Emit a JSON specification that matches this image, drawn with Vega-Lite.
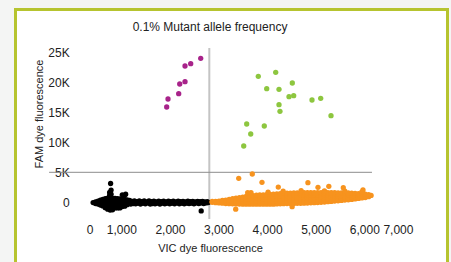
{
  "$schema": "https://vega.github.io/schema/vega-lite/v6.json",
  "width": 432,
  "height": 260.5,
  "autosize": {"type": "none"},
  "padding": {"left": 15.5, "top": 9.5, "right": 3.5, "bottom": 0},
  "background": "#f4f5f4",
  "config": {
    "view": {"fill": "white", "stroke": "#b6c42f", "strokeWidth": 3},
    "font": "Liberation Sans"
  },
  "title": {
    "text": "0.1% Mutant allele frequency",
    "fontSize": 12,
    "fontWeight": "normal",
    "color": "#222222",
    "anchor": "middle",
    "frame": "group",
    "dx": -21.5,
    "offset": -24
  },
  "encoding": {
    "x": {
      "field": "VIC",
      "type": "quantitative",
      "scale": {"domain": [-1177, 7712], "nice": false, "zero": false},
      "axis": {
        "title": "VIC dye fluorescence",
        "values": [0, 1000, 2000, 3000, 4000, 5000, 6000, 7000],
        "format": ",.0f",
        "offset": -50,
        "ticks": false,
        "domain": false,
        "grid": false,
        "labelPadding": 4,
        "labelFontSize": 12,
        "labelColor": "#222222",
        "labelOffset": {"condition": [{"test": "datum.value == 0", "value": 17}, {"test": "datum.value == 7000", "value": -15}], "value": 0},
        "titleFontSize": 11,
        "titleFontWeight": "normal",
        "titleColor": "#222222",
        "titleX": 194.5,
        "titleY": 28,
        "titleBaseline": "middle",
        "titleAlign": "center"
      }
    },
    "y": {
      "field": "FAM",
      "type": "quantitative",
      "scale": {"domain": [-11390, 32245], "nice": false, "zero": false},
      "axis": {
        "title": "FAM dye fluorescence",
        "values": [0, 5000, 10000, 15000, 20000, 25000],
        "labelExpr": "datum.value == 0 ? '0' : (datum.value / 1000) + 'K'",
        "offset": -57.2,
        "ticks": false,
        "domain": false,
        "grid": false,
        "labelPadding": 3.5,
        "labelFontSize": 12,
        "labelColor": "#222222",
        "titleFontSize": 11,
        "titleFontWeight": "normal",
        "titleColor": "#222222",
        "titleX": -32.7,
        "titleY": 104,
        "titleAngle": -90,
        "titleBaseline": "middle",
        "titleAlign": "center"
      }
    }
  },
  "layer": [
    {
      "data": {"values": [{"VIC": 2811, "FAM": 25796, "FAM2": -2848}]},
      "mark": {"type": "rule", "color": "#c4c4c4", "strokeWidth": 2},
      "encoding": {"y2": {"field": "FAM2"}}
    },
    {
      "data": {"values": [{"VIC": -486, "VIC2": 6158, "FAM": 4975}]},
      "mark": {"type": "rule", "color": "#8c8c8c", "strokeWidth": 1},
      "encoding": {"x2": {"field": "VIC2"}}
    },
    {
      "data": {"values": [
        {"VIC":420,"FAM":-100,"g":"k"},{"VIC":470,"FAM":0,"g":"k"},{"VIC":470,"FAM":-250,"g":"k"},{"VIC":520,"FAM":150,"g":"k"},{"VIC":520,"FAM":-350,"g":"k"},
        {"VIC":570,"FAM":300,"g":"k"},{"VIC":570,"FAM":-100,"g":"k"},{"VIC":570,"FAM":-500,"g":"k"},
        {"VIC":620,"FAM":450,"g":"k"},{"VIC":620,"FAM":50,"g":"k"},{"VIC":620,"FAM":-300,"g":"k"},{"VIC":620,"FAM":-650,"g":"k"},
        {"VIC":670,"FAM":550,"g":"k"},{"VIC":670,"FAM":150,"g":"k"},{"VIC":670,"FAM":-250,"g":"k"},{"VIC":670,"FAM":-650,"g":"k"},{"VIC":670,"FAM":-950,"g":"k"},
        {"VIC":720,"FAM":650,"g":"k"},{"VIC":720,"FAM":250,"g":"k"},{"VIC":720,"FAM":-150,"g":"k"},{"VIC":720,"FAM":-550,"g":"k"},{"VIC":720,"FAM":-950,"g":"k"},{"VIC":720,"FAM":-1200,"g":"k"},
        {"VIC":760,"FAM":1100,"g":"k"},{"VIC":760,"FAM":1600,"g":"k"},{"VIC":790,"FAM":2000,"g":"k"},{"VIC":790,"FAM":1300,"g":"k"},{"VIC":780,"FAM":3100,"g":"k"},
        {"VIC":770,"FAM":650,"g":"k"},{"VIC":770,"FAM":250,"g":"k"},{"VIC":770,"FAM":-150,"g":"k"},{"VIC":770,"FAM":-550,"g":"k"},{"VIC":770,"FAM":-950,"g":"k"},{"VIC":770,"FAM":-1350,"g":"k"},
        {"VIC":820,"FAM":600,"g":"k"},{"VIC":820,"FAM":200,"g":"k"},{"VIC":820,"FAM":-200,"g":"k"},{"VIC":820,"FAM":-600,"g":"k"},{"VIC":820,"FAM":-1000,"g":"k"},{"VIC":820,"FAM":-1300,"g":"k"},
        {"VIC":870,"FAM":600,"g":"k"},{"VIC":870,"FAM":200,"g":"k"},{"VIC":870,"FAM":-200,"g":"k"},{"VIC":870,"FAM":-600,"g":"k"},{"VIC":870,"FAM":-1000,"g":"k"},
        {"VIC":920,"FAM":550,"g":"k"},{"VIC":920,"FAM":150,"g":"k"},{"VIC":920,"FAM":-250,"g":"k"},{"VIC":920,"FAM":-650,"g":"k"},{"VIC":920,"FAM":-1000,"g":"k"},
        {"VIC":970,"FAM":500,"g":"k"},{"VIC":970,"FAM":100,"g":"k"},{"VIC":970,"FAM":-300,"g":"k"},{"VIC":970,"FAM":-700,"g":"k"},{"VIC":970,"FAM":-1000,"g":"k"},
        {"VIC":1020,"FAM":1200,"g":"k"},{"VIC":1060,"FAM":1000,"g":"k"},{"VIC":1090,"FAM":1300,"g":"k"},
        {"VIC":1020,"FAM":450,"g":"k"},{"VIC":1020,"FAM":50,"g":"k"},{"VIC":1020,"FAM":-350,"g":"k"},{"VIC":1020,"FAM":-750,"g":"k"},
        {"VIC":1070,"FAM":400,"g":"k"},{"VIC":1070,"FAM":0,"g":"k"},{"VIC":1070,"FAM":-400,"g":"k"},{"VIC":1070,"FAM":-700,"g":"k"},
        {"VIC":1120,"FAM":350,"g":"k"},{"VIC":1120,"FAM":-50,"g":"k"},{"VIC":1120,"FAM":-450,"g":"k"},
        {"VIC":1170,"FAM":250,"g":"k"},{"VIC":1170,"FAM":-150,"g":"k"},{"VIC":1195,"FAM":-350,"g":"k"},{"VIC":1220,"FAM":100,"g":"k"},{"VIC":1245,"FAM":-250,"g":"k"},
        {"VIC":1270,"FAM":200,"g":"k"},{"VIC":1295,"FAM":-300,"g":"k"},{"VIC":1320,"FAM":50,"g":"k"},{"VIC":1345,"FAM":-200,"g":"k"},{"VIC":1370,"FAM":200,"g":"k"},
        {"VIC":1395,"FAM":-350,"g":"k"},{"VIC":1420,"FAM":50,"g":"k"},{"VIC":1445,"FAM":-200,"g":"k"},{"VIC":1470,"FAM":180,"g":"k"},{"VIC":1495,"FAM":-300,"g":"k"},
        {"VIC":1520,"FAM":0,"g":"k"},{"VIC":1545,"FAM":-150,"g":"k"},{"VIC":1570,"FAM":200,"g":"k"},{"VIC":1595,"FAM":-350,"g":"k"},{"VIC":1620,"FAM":50,"g":"k"},
        {"VIC":1645,"FAM":-250,"g":"k"},{"VIC":1670,"FAM":150,"g":"k"},{"VIC":1695,"FAM":-300,"g":"k"},{"VIC":1720,"FAM":0,"g":"k"},{"VIC":1745,"FAM":-200,"g":"k"},
        {"VIC":1770,"FAM":150,"g":"k"},{"VIC":1795,"FAM":-350,"g":"k"},{"VIC":1820,"FAM":50,"g":"k"},{"VIC":1845,"FAM":-200,"g":"k"},{"VIC":1870,"FAM":150,"g":"k"},
        {"VIC":1895,"FAM":-300,"g":"k"},{"VIC":1920,"FAM":0,"g":"k"},{"VIC":1945,"FAM":-200,"g":"k"},{"VIC":1970,"FAM":150,"g":"k"},{"VIC":1995,"FAM":-300,"g":"k"},
        {"VIC":2020,"FAM":50,"g":"k"},{"VIC":2045,"FAM":-200,"g":"k"},{"VIC":2070,"FAM":150,"g":"k"},{"VIC":2095,"FAM":-300,"g":"k"},{"VIC":2120,"FAM":0,"g":"k"},
        {"VIC":2145,"FAM":-150,"g":"k"},{"VIC":2170,"FAM":150,"g":"k"},{"VIC":2195,"FAM":-300,"g":"k"},{"VIC":2220,"FAM":50,"g":"k"},{"VIC":2245,"FAM":-200,"g":"k"},
        {"VIC":2270,"FAM":120,"g":"k"},{"VIC":2295,"FAM":-300,"g":"k"},{"VIC":2320,"FAM":0,"g":"k"},{"VIC":2345,"FAM":-200,"g":"k"},{"VIC":2370,"FAM":150,"g":"k"},
        {"VIC":2395,"FAM":-250,"g":"k"},{"VIC":2420,"FAM":50,"g":"k"},{"VIC":2445,"FAM":-200,"g":"k"},{"VIC":2470,"FAM":120,"g":"k"},{"VIC":2495,"FAM":-300,"g":"k"},
        {"VIC":2520,"FAM":0,"g":"k"},{"VIC":2545,"FAM":-150,"g":"k"},{"VIC":2570,"FAM":100,"g":"k"},{"VIC":2595,"FAM":-250,"g":"k"},{"VIC":2620,"FAM":50,"g":"k"},
        {"VIC":2645,"FAM":-150,"g":"k"},{"VIC":2670,"FAM":100,"g":"k"},{"VIC":2695,"FAM":-250,"g":"k"},{"VIC":2720,"FAM":0,"g":"k"},{"VIC":2745,"FAM":-150,"g":"k"},
        {"VIC":2770,"FAM":50,"g":"k"},{"VIC":2790,"FAM":-100,"g":"k"},{"VIC":2644,"FAM":-1500,"g":"k"},

        {"VIC":2870,"FAM":-50,"g":"o"},{"VIC":2870,"FAM":100,"g":"o"},
        {"VIC":2940,"FAM":-120,"g":"o"},{"VIC":2940,"FAM":100,"g":"o"},
        {"VIC":3010,"FAM":-150,"g":"o"},{"VIC":3010,"FAM":150,"g":"o"},
        {"VIC":3080,"FAM":-200,"g":"o"},{"VIC":3080,"FAM":50,"g":"o"},{"VIC":3080,"FAM":250,"g":"o"},
        {"VIC":3150,"FAM":-250,"g":"o"},{"VIC":3150,"FAM":50,"g":"o"},{"VIC":3150,"FAM":300,"g":"o"},
        {"VIC":3220,"FAM":-280,"g":"o"},{"VIC":3220,"FAM":70,"g":"o"},{"VIC":3220,"FAM":420,"g":"o"},
        {"VIC":3290,"FAM":-300,"g":"o"},{"VIC":3290,"FAM":120,"g":"o"},{"VIC":3290,"FAM":550,"g":"o"},
        {"VIC":3360,"FAM":-320,"g":"o"},{"VIC":3360,"FAM":150,"g":"o"},{"VIC":3360,"FAM":650,"g":"o"},
        {"VIC":3430,"FAM":-340,"g":"o"},{"VIC":3430,"FAM":100,"g":"o"},{"VIC":3430,"FAM":500,"g":"o"},{"VIC":3430,"FAM":730,"g":"o"},
        {"VIC":3500,"FAM":-360,"g":"o"},{"VIC":3500,"FAM":50,"g":"o"},{"VIC":3500,"FAM":450,"g":"o"},{"VIC":3500,"FAM":830,"g":"o"},
        {"VIC":3570,"FAM":-370,"g":"o"},{"VIC":3570,"FAM":70,"g":"o"},{"VIC":3570,"FAM":500,"g":"o"},{"VIC":3570,"FAM":920,"g":"o"},
        {"VIC":3640,"FAM":-370,"g":"o"},{"VIC":3640,"FAM":80,"g":"o"},{"VIC":3640,"FAM":530,"g":"o"},{"VIC":3640,"FAM":1000,"g":"o"},
        {"VIC":3710,"FAM":-370,"g":"o"},{"VIC":3710,"FAM":100,"g":"o"},{"VIC":3710,"FAM":580,"g":"o"},{"VIC":3710,"FAM":1060,"g":"o"},
        {"VIC":3780,"FAM":-370,"g":"o"},{"VIC":3780,"FAM":130,"g":"o"},{"VIC":3780,"FAM":630,"g":"o"},{"VIC":3780,"FAM":1130,"g":"o"},
        {"VIC":3850,"FAM":-370,"g":"o"},{"VIC":3850,"FAM":150,"g":"o"},{"VIC":3850,"FAM":650,"g":"o"},{"VIC":3850,"FAM":1180,"g":"o"},
        {"VIC":3920,"FAM":-370,"g":"o"},{"VIC":3920,"FAM":50,"g":"o"},{"VIC":3920,"FAM":450,"g":"o"},{"VIC":3920,"FAM":850,"g":"o"},{"VIC":3920,"FAM":1210,"g":"o"},
        {"VIC":3990,"FAM":-370,"g":"o"},{"VIC":3990,"FAM":30,"g":"o"},{"VIC":3990,"FAM":430,"g":"o"},{"VIC":3990,"FAM":830,"g":"o"},{"VIC":3990,"FAM":1250,"g":"o"},
        {"VIC":4060,"FAM":-370,"g":"o"},{"VIC":4060,"FAM":80,"g":"o"},{"VIC":4060,"FAM":500,"g":"o"},{"VIC":4060,"FAM":900,"g":"o"},{"VIC":4060,"FAM":1280,"g":"o"},
        {"VIC":4130,"FAM":-360,"g":"o"},{"VIC":4130,"FAM":60,"g":"o"},{"VIC":4130,"FAM":480,"g":"o"},{"VIC":4130,"FAM":900,"g":"o"},{"VIC":4130,"FAM":1310,"g":"o"},
        {"VIC":4200,"FAM":-330,"g":"o"},{"VIC":4200,"FAM":100,"g":"o"},{"VIC":4200,"FAM":500,"g":"o"},{"VIC":4200,"FAM":930,"g":"o"},{"VIC":4200,"FAM":1350,"g":"o"},
        {"VIC":4270,"FAM":-300,"g":"o"},{"VIC":4270,"FAM":120,"g":"o"},{"VIC":4270,"FAM":550,"g":"o"},{"VIC":4270,"FAM":980,"g":"o"},{"VIC":4270,"FAM":1400,"g":"o"},
        {"VIC":4340,"FAM":-280,"g":"o"},{"VIC":4340,"FAM":150,"g":"o"},{"VIC":4340,"FAM":580,"g":"o"},{"VIC":4340,"FAM":1020,"g":"o"},{"VIC":4340,"FAM":1450,"g":"o"},
        {"VIC":4410,"FAM":-250,"g":"o"},{"VIC":4410,"FAM":180,"g":"o"},{"VIC":4410,"FAM":620,"g":"o"},{"VIC":4410,"FAM":1050,"g":"o"},{"VIC":4410,"FAM":1490,"g":"o"},
        {"VIC":4480,"FAM":-240,"g":"o"},{"VIC":4480,"FAM":200,"g":"o"},{"VIC":4480,"FAM":650,"g":"o"},{"VIC":4480,"FAM":1080,"g":"o"},{"VIC":4480,"FAM":1500,"g":"o"},
        {"VIC":4550,"FAM":-230,"g":"o"},{"VIC":4550,"FAM":220,"g":"o"},{"VIC":4550,"FAM":660,"g":"o"},{"VIC":4550,"FAM":1100,"g":"o"},{"VIC":4550,"FAM":1520,"g":"o"},
        {"VIC":4620,"FAM":-220,"g":"o"},{"VIC":4620,"FAM":230,"g":"o"},{"VIC":4620,"FAM":680,"g":"o"},{"VIC":4620,"FAM":1100,"g":"o"},{"VIC":4620,"FAM":1530,"g":"o"},
        {"VIC":4690,"FAM":-210,"g":"o"},{"VIC":4690,"FAM":240,"g":"o"},{"VIC":4690,"FAM":680,"g":"o"},{"VIC":4690,"FAM":1110,"g":"o"},{"VIC":4690,"FAM":1540,"g":"o"},
        {"VIC":4760,"FAM":-200,"g":"o"},{"VIC":4760,"FAM":250,"g":"o"},{"VIC":4760,"FAM":700,"g":"o"},{"VIC":4760,"FAM":1130,"g":"o"},{"VIC":4760,"FAM":1550,"g":"o"},
        {"VIC":4830,"FAM":-170,"g":"o"},{"VIC":4830,"FAM":270,"g":"o"},{"VIC":4830,"FAM":700,"g":"o"},{"VIC":4830,"FAM":1130,"g":"o"},{"VIC":4830,"FAM":1550,"g":"o"},
        {"VIC":4900,"FAM":-140,"g":"o"},{"VIC":4900,"FAM":300,"g":"o"},{"VIC":4900,"FAM":720,"g":"o"},{"VIC":4900,"FAM":1150,"g":"o"},{"VIC":4900,"FAM":1550,"g":"o"},
        {"VIC":4970,"FAM":-110,"g":"o"},{"VIC":4970,"FAM":320,"g":"o"},{"VIC":4970,"FAM":740,"g":"o"},{"VIC":4970,"FAM":1150,"g":"o"},{"VIC":4970,"FAM":1550,"g":"o"},
        {"VIC":5040,"FAM":-80,"g":"o"},{"VIC":5040,"FAM":350,"g":"o"},{"VIC":5040,"FAM":760,"g":"o"},{"VIC":5040,"FAM":1170,"g":"o"},{"VIC":5040,"FAM":1550,"g":"o"},
        {"VIC":5110,"FAM":-40,"g":"o"},{"VIC":5110,"FAM":380,"g":"o"},{"VIC":5110,"FAM":800,"g":"o"},{"VIC":5110,"FAM":1180,"g":"o"},{"VIC":5110,"FAM":1550,"g":"o"},
        {"VIC":5180,"FAM":0,"g":"o"},{"VIC":5180,"FAM":400,"g":"o"},{"VIC":5180,"FAM":800,"g":"o"},{"VIC":5180,"FAM":1200,"g":"o"},{"VIC":5180,"FAM":1550,"g":"o"},
        {"VIC":5250,"FAM":50,"g":"o"},{"VIC":5250,"FAM":450,"g":"o"},{"VIC":5250,"FAM":850,"g":"o"},{"VIC":5250,"FAM":1250,"g":"o"},{"VIC":5250,"FAM":1550,"g":"o"},
        {"VIC":5320,"FAM":100,"g":"o"},{"VIC":5320,"FAM":500,"g":"o"},{"VIC":5320,"FAM":900,"g":"o"},{"VIC":5320,"FAM":1250,"g":"o"},{"VIC":5320,"FAM":1550,"g":"o"},
        {"VIC":5390,"FAM":150,"g":"o"},{"VIC":5390,"FAM":550,"g":"o"},{"VIC":5390,"FAM":950,"g":"o"},{"VIC":5390,"FAM":1300,"g":"o"},{"VIC":5390,"FAM":1550,"g":"o"},
        {"VIC":5460,"FAM":200,"g":"o"},{"VIC":5460,"FAM":600,"g":"o"},{"VIC":5460,"FAM":1000,"g":"o"},{"VIC":5460,"FAM":1300,"g":"o"},{"VIC":5460,"FAM":1540,"g":"o"},
        {"VIC":5530,"FAM":260,"g":"o"},{"VIC":5530,"FAM":650,"g":"o"},{"VIC":5530,"FAM":1050,"g":"o"},{"VIC":5530,"FAM":1530,"g":"o"},
        {"VIC":5600,"FAM":320,"g":"o"},{"VIC":5600,"FAM":700,"g":"o"},{"VIC":5600,"FAM":1100,"g":"o"},{"VIC":5600,"FAM":1520,"g":"o"},
        {"VIC":5670,"FAM":380,"g":"o"},{"VIC":5670,"FAM":750,"g":"o"},{"VIC":5670,"FAM":1150,"g":"o"},{"VIC":5670,"FAM":1510,"g":"o"},
        {"VIC":5740,"FAM":440,"g":"o"},{"VIC":5740,"FAM":800,"g":"o"},{"VIC":5740,"FAM":1150,"g":"o"},{"VIC":5740,"FAM":1500,"g":"o"},
        {"VIC":5810,"FAM":520,"g":"o"},{"VIC":5810,"FAM":900,"g":"o"},{"VIC":5810,"FAM":1250,"g":"o"},{"VIC":5810,"FAM":1460,"g":"o"},
        {"VIC":5880,"FAM":600,"g":"o"},{"VIC":5880,"FAM":950,"g":"o"},{"VIC":5880,"FAM":1250,"g":"o"},{"VIC":5880,"FAM":1420,"g":"o"},
        {"VIC":5950,"FAM":680,"g":"o"},{"VIC":5950,"FAM":1000,"g":"o"},{"VIC":5950,"FAM":1380,"g":"o"},
        {"VIC":6020,"FAM":750,"g":"o"},{"VIC":6020,"FAM":1050,"g":"o"},{"VIC":6020,"FAM":1330,"g":"o"},
        {"VIC":6090,"FAM":900,"g":"o"},{"VIC":6090,"FAM":1250,"g":"o"},{"VIC":6140,"FAM":1100,"g":"o"},
        {"VIC":4330,"FAM":1800,"g":"o"},{"VIC":4700,"FAM":1900,"g":"o"},{"VIC":5180,"FAM":1850,"g":"o"},{"VIC":5600,"FAM":1800,"g":"o"},{"VIC":5950,"FAM":1700,"g":"o"},{"VIC":3600,"FAM":1550,"g":"o"},{"VIC":4020,"FAM":1650,"g":"o"},
        {"VIC":3695,"FAM":4690,"g":"o"},{"VIC":3416,"FAM":3970,"g":"o"},{"VIC":3895,"FAM":3300,"g":"o"},{"VIC":4840,"FAM":3233,"g":"o"},{"VIC":5270,"FAM":2620,"g":"o"},
        {"VIC":5047,"FAM":2460,"g":"o"},{"VIC":5568,"FAM":2400,"g":"o"},{"VIC":4230,"FAM":2500,"g":"o"},{"VIC":5973,"FAM":2010,"g":"o"},{"VIC":3669,"FAM":1558,"g":"o"},
        {"VIC":3354,"FAM":-1200,"g":"o"},{"VIC":4515,"FAM":-780,"g":"o"},

        {"VIC":2634,"FAM":24070,"g":"m"},{"VIC":2428,"FAM":23166,"g":"m"},{"VIC":2311,"FAM":22780,"g":"m"},{"VIC":2311,"FAM":20151,"g":"m"},
        {"VIC":2202,"FAM":19765,"g":"m"},{"VIC":2181,"FAM":18141,"g":"m"},{"VIC":1961,"FAM":17253,"g":"m"},{"VIC":1934,"FAM":15913,"g":"m"},

        {"VIC":3819,"FAM":21055,"g":"g"},{"VIC":4177,"FAM":21725,"g":"g"},{"VIC":4519,"FAM":19933,"g":"g"},{"VIC":3992,"FAM":18978,"g":"g"},
        {"VIC":4245,"FAM":18878,"g":"g"},{"VIC":4451,"FAM":17638,"g":"g"},{"VIC":4547,"FAM":17806,"g":"g"},{"VIC":4924,"FAM":17085,"g":"g"},
        {"VIC":5103,"FAM":17370,"g":"g"},{"VIC":4245,"FAM":16298,"g":"g"},{"VIC":4265,"FAM":15193,"g":"g"},{"VIC":5315,"FAM":14456,"g":"g"},
        {"VIC":3580,"FAM":13065,"g":"g"},{"VIC":3942,"FAM":12730,"g":"g"},{"VIC":3663,"FAM":11390,"g":"g"},{"VIC":3519,"FAM":9380,"g":"g"}
      ]},
      "mark": {"type": "circle", "size": 28, "opacity": 1},
      "encoding": {
        "color": {
          "field": "g",
          "type": "nominal",
          "scale": {"domain": ["k", "o", "m", "g"], "range": ["#000000", "#f7931e", "#a8238a", "#8dc63f"]},
          "legend": null
        }
      }
    }
  ]
}
